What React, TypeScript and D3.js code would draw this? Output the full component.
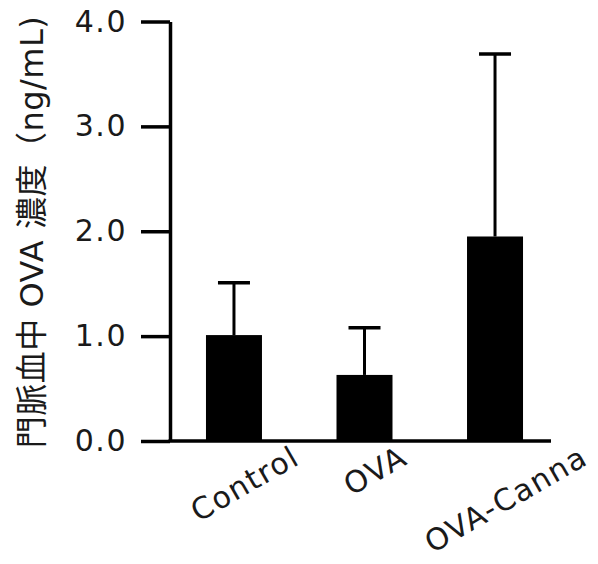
import React, { useEffect, useRef } from 'react';
import * as d3 from 'd3';

// data
const categories = ['Control', 'OVA', 'OVA-Canna'];
const means = [1.01, 0.63, 1.95];
const errors = [0.5, 0.45, 1.74];
const yTicks = [0, 1, 2, 3, 4];
const yLabel = '門脈血中 OVA 濃度（ng/mL)';

const W = 598;
const H = 564;
const FONT = '"DejaVu Sans", Verdana, "Noto Sans CJK JP", sans-serif';

const App = () => {
  const svgRef = useRef<SVGSVGElement>(null);

  useEffect(() => {
    document.body.style.margin = '0';
    const svg = d3.select(svgRef.current);
    svg.selectAll('*').remove();

    const x0 = 170;
    const x1 = 551;
    const yBase = 441;

    const x = d3
      .scaleBand<string>()
      .domain(categories)
      .range([x0, x1])
      .paddingInner(0.571)
      .paddingOuter(0.245)
      .align(0.5625);

    const y = d3.scaleLinear().domain([0, 4]).range([yBase, 21.5]);

    const g = svg.append('g');

    // bars
    g.selectAll('rect.bar')
      .data(categories)
      .enter()
      .append('rect')
      .attr('class', 'bar')
      .attr('x', (d) => x(d)!)
      .attr('y', (_d, i) => y(means[i]))
      .attr('width', x.bandwidth())
      .attr('height', (_d, i) => yBase - y(means[i]))
      .attr('fill', '#000');

    // error bars (upper only)
    const capW = 32;
    categories.forEach((c, i) => {
      const cx = x(c)! + x.bandwidth() / 2;
      const top = y(means[i] + errors[i]);
      g.append('line')
        .attr('x1', cx)
        .attr('x2', cx)
        .attr('y1', y(means[i]))
        .attr('y2', top)
        .attr('stroke', '#000')
        .attr('stroke-width', 3);
      g.append('line')
        .attr('x1', cx - capW / 2)
        .attr('x2', cx + capW / 2)
        .attr('y1', top)
        .attr('y2', top)
        .attr('stroke', '#000')
        .attr('stroke-width', 3.5);
    });

    // y axis
    const yAxis = d3
      .axisLeft(y)
      .tickValues(yTicks)
      .tickSize(29)
      .tickSizeOuter(0)
      .tickPadding(14)
      .tickFormat((d) => d3.format('.1f')(d as number));

    const ya = g.append('g').attr('transform', `translate(${x0},0)`).call(yAxis);
    ya.select('.domain').attr('stroke', '#000').attr('stroke-width', 3.5);
    ya.selectAll('.tick line').attr('stroke', '#000').attr('stroke-width', 3.5);
    ya.selectAll('.tick text')
      .attr('font-family', FONT)
      .attr('font-size', 30)
      .attr('letter-spacing', 1.5)
      .attr('fill', '#1a1a1a');

    // x axis line
    g.append('line')
      .attr('x1', x0 - 1.5)
      .attr('x2', x1)
      .attr('y1', yBase)
      .attr('y2', yBase)
      .attr('stroke', '#000')
      .attr('stroke-width', 3.5);

    // x labels, rotated -30, bbox centred a bit right of the bar
    categories.forEach((c) => {
      const cx = x(c)! + x.bandwidth() / 2;
      const t = g
        .append('text')
        .attr('font-family', FONT)
        .attr('font-size', 30)
        .attr('letter-spacing', 1.5)
        .attr('fill', '#1a1a1a')
        .attr('text-anchor', 'middle')
        .text(c);
      const len = (t.node() as SVGTextElement).getComputedTextLength();
      const my = yBase + 22 + len * 0.25;
      t.attr('transform', `translate(${cx + 16},${my}) rotate(-30)`);
    });

    // y label
    g.append('text')
      .attr('font-family', FONT)
      .attr('font-size', 32)
      .attr('letter-spacing', 0.5)
      .attr('fill', '#1a1a1a')
      .attr('text-anchor', 'middle')
      .attr('transform', `translate(43,232) rotate(-90)`)
      .text(yLabel);
  }, []);

  return <svg ref={svgRef} width={W} height={H} style={{ display: 'block', background: '#fff' }} />;
};

export default App;
